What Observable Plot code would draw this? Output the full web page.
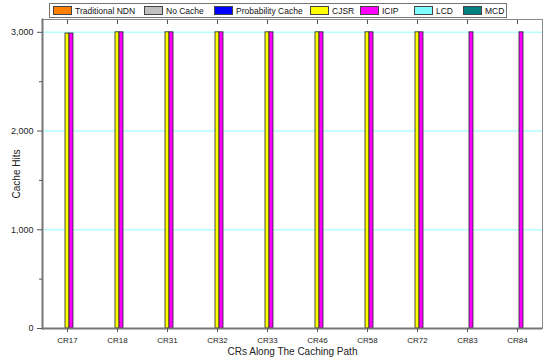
<!DOCTYPE html>
<html><head>
<meta charset="utf-8">
<script src="https://cdn.jsdelivr.net/npm/d3@7"></script>
<script src="https://cdn.jsdelivr.net/npm/@observablehq/plot@0.6"></script>
<style>
body{margin:0;background:#fff;}
#wrap{position:relative;width:550px;height:359px;font-family:"Liberation Sans",Arial,sans-serif;}
#legend{position:absolute;left:49px;top:3px;width:458px;height:15px;border:1px solid #777;box-sizing:border-box;background:#fff;font-size:8.5px;color:#111;}
.item{position:absolute;top:2px;display:flex;align-items:center;height:9px;white-space:nowrap;}
.sw{width:17px;height:7px;border:1px solid #444;margin-right:3px;}
[aria-label="y-axis label"], [aria-label="fx-axis label"]{font-size:10px;}
</style></head>
<body><div id="wrap"><div id="chart"></div><div id="legend"></div></div>
<script>
const categories = ["CR17","CR18","CR31","CR32","CR33","CR46","CR58","CR72","CR83","CR84"];
const series = ["Traditional NDN","No Cache","Probability Cache","CJSR","ICIP","LCD","MCD"];
const colors = ["#ff8000","#c0c0c0","#0000ff","#ffff00","#ff00ff","#80ffff","#008080"];
const traditionalNDN = [0,0,0,0,0,0,0,0,0,0];
const noCache        = [0,0,0,0,0,0,0,0,0,0];
const probCache      = [0,0,0,0,0,0,0,0,0,0];
const cjsr           = [2988,3000,3000,3000,3000,3000,3000,3000,0,0];
const icip           = [2988,3000,3000,3000,3000,3000,3000,3000,3000,3000];
const lcd            = [0,0,0,0,0,0,0,0,0,0];
const mcd            = [0,0,0,0,0,0,0,0,0,0];
const majorTicks = [0,1000,2000,3000];
const minorTicks = [500,1500,2500];

const values = [traditionalNDN,noCache,probCache,cjsr,icip,lcd,mcd];
const table = [];
categories.forEach((c,i)=>series.forEach((s,j)=>table.push({cat:c,series:s,value:values[j][i]})));

const chart = Plot.plot({
  width:550, height:359,
  marginLeft:40, marginRight:6, marginTop:19, marginBottom:31,
  style:{fontFamily:"Liberation Sans, Arial, sans-serif", fontSize:"9px", background:"#fff", color:"#222"},
  fx:{domain:categories, padding:0},
  x:{domain:series, paddingInner:0, paddingOuter:1.55, axis:null},
  y:{domain:[0,3130]},
  color:{domain:series, range:colors},
  marks:[
    Plot.ruleY(majorTicks.filter(d=>d>0), {stroke:"#b4ffff", strokeWidth:1.5}),
    Plot.barY(table.filter(d=>d.value>0), {fx:"cat", x:"series", y:"value", fill:"series", stroke:"#222", strokeWidth:0.8}),
    Plot.frame({anchor:"top", stroke:"#888", strokeWidth:1}),
    Plot.frame({anchor:"right", facetAnchor:"right", stroke:"#888", strokeWidth:1}),
    Plot.frame({anchor:"left", facetAnchor:"left", stroke:"#777", strokeWidth:2}),
    Plot.ruleY([0], {stroke:"#777", strokeWidth:2}),
    Plot.axisY(majorTicks, {tickSize:5, tickFormat:d3.format(","), fontSize:9, label:"Cache Hits", labelAnchor:"center", labelArrow:"none", labelOffset:30, stroke:"#555"}),
    Plot.axisY(minorTicks, {tickSize:3, tickFormat:()=>"", label:null, stroke:"#555"}),
    Plot.axisFx({anchor:"bottom", tickSize:4, fontSize:8, label:"CRs Along The Caching Path", labelAnchor:"center", labelArrow:"none", labelOffset:26, stroke:"#555"}),
    Plot.axisFx({anchor:"top", tickSize:-4, tickFormat:()=>"", label:null, stroke:"#555"})
  ]
});
document.getElementById("chart").appendChild(chart);

const legendLefts = [3,94,164,260,310,364,413];
const legend = document.getElementById("legend");
series.forEach((s,i)=>{
  const it = document.createElement("div");
  it.className="item"; it.style.left = legendLefts[i]+"px";
  const sw = document.createElement("div"); sw.className="sw"; sw.style.background = colors[i];
  const t = document.createElement("span"); t.textContent = s;
  it.appendChild(sw); it.appendChild(t); legend.appendChild(it);
});
</script>
</body></html>
